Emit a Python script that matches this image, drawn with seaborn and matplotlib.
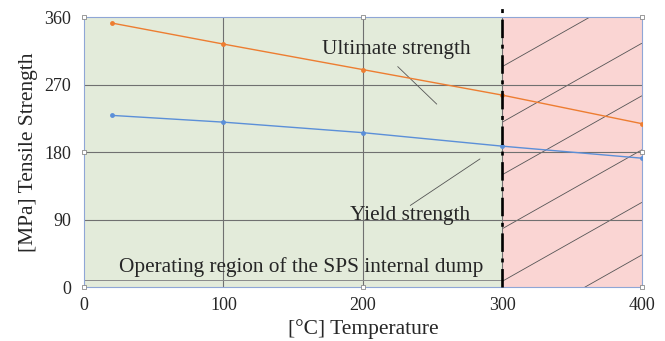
import numpy as np
import pandas as pd
import matplotlib
matplotlib.use("Agg")
import matplotlib.pyplot as plt
import seaborn as sns
from matplotlib.patches import Rectangle

# Strength of the material versus temperature
temperature = [20, 100, 200, 300, 400]
ultimate_strength = [352, 324, 290, 256, 218]
yield_strength = [229, 220, 206, 188, 172]

x_ticks = [0, 100, 200, 300, 400]
y_ticks = [0, 90, 180, 270, 360]

operating_limit = 300      # upper temperature of the operating region
operating_level = 10       # baseline marking the operating region

sns.set_theme(style="white")
plt.rcParams["font.family"] = ["Liberation Serif", "DejaVu Serif"]

df = pd.concat([
    pd.DataFrame({"T": temperature, "MPa": ultimate_strength, "kind": "Ultimate strength"}),
    pd.DataFrame({"T": temperature, "MPa": yield_strength, "kind": "Yield strength"}),
])

fig = plt.figure(figsize=(6.65, 3.41), dpi=100)
ax = fig.add_axes([0.1263, 0.1575, 0.965 - 0.1263, 0.950 - 0.1575])
ax.set_xlim(x_ticks[0], x_ticks[-1])
ax.set_ylim(y_ticks[0], y_ticks[-1])

# Background regions
ax.axvspan(x_ticks[0], operating_limit, color="#e3ebda", zorder=0, lw=0)
ax.axvspan(operating_limit, x_ticks[-1], color="#fad5d3", zorder=0, lw=0)

# Diagonal hatching of the forbidden region
clip = Rectangle((operating_limit, y_ticks[0]), x_ticks[-1] - operating_limit,
                 y_ticks[-1] - y_ticks[0], transform=ax.transData)
xs = np.array([operating_limit, x_ticks[-1]])
for start in [294, 220, 150, 78, 8, -62]:
    ln, = ax.plot(xs, start + 1.05 * (xs - operating_limit), color="#555555",
                  lw=0.6, zorder=1)
    ln.set_clip_path(clip)

# Grid
for t in x_ticks[1:-1]:
    ax.axvline(t, color="#707070", lw=0.8, zorder=1)
for t in y_ticks[1:-1]:
    ax.axhline(t, color="#707070", lw=0.8, zorder=1)

ax.plot([x_ticks[0], operating_limit], [operating_level, operating_level],
        color="#8a8a8a", lw=0.7, zorder=2)

sns.lineplot(data=df, x="T", y="MPa", hue="kind",
             palette=["#ed7d31", "#5b8fd8"], marker="o", markersize=3.5,
             markeredgewidth=0, lw=1.0, legend=False, ax=ax, zorder=3)

ax.axvline(operating_limit, ymin=0, ymax=1.035, color="black", lw=1.9,
           linestyle=(0, (7, 2.5, 1.5, 2.5)), clip_on=False, zorder=4)

# Curve labels with leader lines
ax.text(224, 317, "Ultimate strength", fontsize=15.3, ha="center", va="center", zorder=5)
ax.plot([225, 253], [294, 244], color="#555555", lw=0.6, zorder=2)
ax.text(234, 95, "Yield strength", fontsize=15.3, ha="center", va="center", zorder=5)
ax.plot([234, 284], [109, 171], color="#555555", lw=0.6, zorder=2)
ax.text(156, 27, "Operating region of the SPS internal dump", fontsize=15.3,
        ha="center", va="center", zorder=5)

ax.set_xticks(x_ticks)
ax.set_yticks(y_ticks)
ax.tick_params(axis="y", labelsize=13, length=0, pad=9)
ax.tick_params(axis="x", labelsize=13, length=0, pad=7)
ax.set_xlabel("[°C] Temperature", fontsize=15.5, labelpad=4)
ax.set_ylabel("[MPa] Tensile Strength", fontsize=15.5, labelpad=5)
for s in ax.spines.values():
    s.set_color("#8fa6d6")
    s.set_linewidth(0.8)

# Small square handles on the frame
hx = [0, 200, 400, 0, 400, 0, 200, 400]
hy = [360, 360, 360, 180, 180, 0, 0, 0]
ax.scatter(hx, hy, marker="s", s=12, facecolor="white", edgecolor="#8a8a8a",
           linewidth=0.6, clip_on=False, zorder=6)

fig.savefig("out.png", dpi=100)
